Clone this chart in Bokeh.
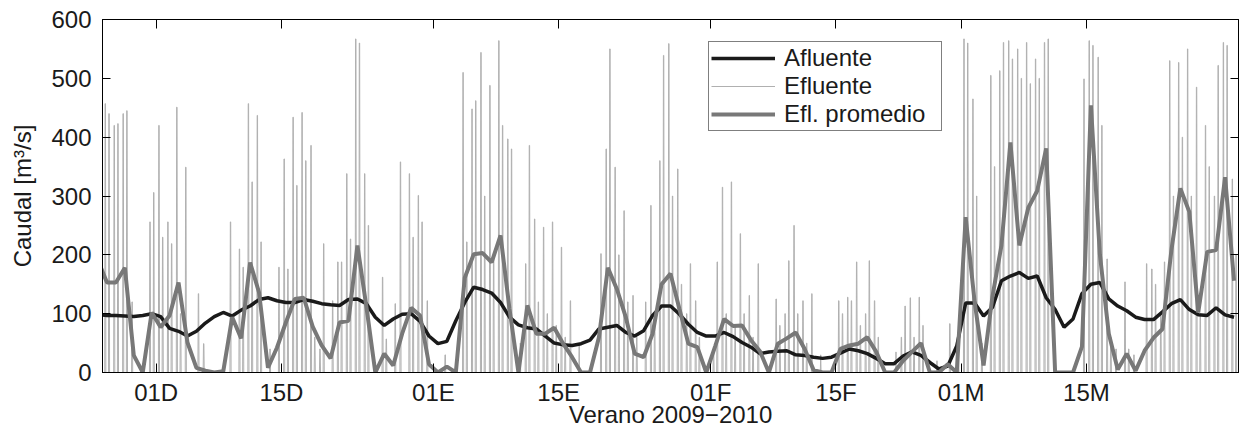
import numpy as np
from bokeh.plotting import figure
from bokeh.models import Range1d, FixedTicker, LinearAxis, Legend, LegendItem
from bokeh.embed import file_html
from bokeh.resources import INLINE

# Daily series, one value per day (plotted at noon), from 2009-11-24 to 2010-03-31
primer_dia = "2009-11-24"
origen = "2009-11-25"          # left edge of the time axis
fin = "2010-04-01"             # right edge of the time axis

afluente = [98, 97, 97, 96, 95, 97, 100, 95, 75, 70, 62, 70, 84, 95, 102, 96, 106,
            113, 124, 127, 122, 119, 119, 124, 121, 117, 115, 114, 124, 125, 117, 94,
            80, 91, 99, 100, 87, 62, 49, 53, 88, 119, 145, 141, 135, 119, 94, 81, 76,
            74, 62, 50, 47, 46, 49, 55, 74, 77, 80, 68, 62, 71, 97, 113, 113, 99, 82,
            68, 62, 62, 68, 61, 51, 43, 32, 35, 36, 37, 30, 29, 26, 24, 26, 33, 40,
            37, 32, 24, 15, 15, 28, 35, 29, 17, 6, 11, 45, 118, 118, 96, 111, 156,
            164, 170, 160, 164, 127, 107, 77, 91, 134, 150, 153, 125, 113, 105, 94,
            90, 90, 103, 117, 124, 107, 98, 97, 110, 98, 94]

efl_promedio = [190, 153, 153, 178, 29, 0, 102, 77, 97, 153, 51, 8, 3, 0, 2, 94, 58,
                187, 136, 8, 42, 85, 125, 127, 78, 46, 24, 85, 88, 216, 112, 0, 32, 12,
                66, 110, 97, 14, 0, 10, 0, 161, 201, 203, 187, 233, 108, 0, 114, 66,
                66, 76, 49, 26, 0, 0, 60, 178, 142, 94, 32, 26, 66, 150, 168, 108, 49,
                43, 0, 45, 91, 79, 80, 55, 36, 0, 49, 58, 68, 40, 4, 0, 0, 40, 46, 49,
                60, 35, 0, 0, 20, 35, 50, 0, 0, 14, 0, 264, 120, 12, 130, 216, 391,
                216, 280, 309, 381, 0, 0, 0, 44, 454, 201, 66, 5, 32, 3, 37, 59, 74,
                208, 313, 273, 102, 205, 208, 332, 156]

# Effluent peaks of the morning and afternoon turbine runs of each day
pico_am = [0, 457, 420, 440, 120, 0, 256, 420, 256, 451, 349, 0, 49, 0, 0, 256, 210,
           457, 437, 0, 0, 363, 434, 442, 386, 40, 0, 188, 338, 567, 338, 0, 162, 0,
           358, 338, 301, 122, 0, 30, 0, 510, 448, 544, 488, 564, 397, 0, 185, 261,
           247, 256, 213, 122, 50, 0, 0, 380, 349, 275, 131, 0, 284, 360, 559, 346,
           100, 122, 0, 40, 315, 324, 236, 131, 185, 0, 125, 100, 250, 122, 134, 30,
           0, 122, 128, 188, 100, 122, 0, 0, 60, 127, 128, 0, 20, 0, 0, 567, 465, 50,
           505, 513, 564, 550, 561, 533, 561, 0, 0, 0, 0, 564, 536, 193, 40, 154, 30,
           0, 176, 100, 530, 527, 550, 485, 420, 300, 561, 329]
pico_pm = [0, 440, 423, 445, 0, 0, 306, 230, 219, 100, 0, 134, 0, 0, 0, 0, 179, 324,
           222, 40, 179, 176, 318, 360, 60, 219, 122, 188, 227, 560, 250, 0, 57, 117,
           0, 230, 256, 0, 0, 0, 0, 222, 462, 300, 200, 420, 380, 50, 386, 120, 100,
           80, 60, 0, 0, 0, 202, 550, 200, 120, 60, 120, 100, 539, 300, 150, 185, 60,
           0, 188, 100, 80, 100, 60, 0, 0, 80, 190, 100, 50, 0, 0, 0, 100, 122, 80,
           190, 60, 0, 35, 113, 60, 80, 0, 0, 83, 40, 560, 300, 0, 350, 561, 533,
           500, 491, 500, 567, 0, 0, 0, 499, 556, 420, 60, 0, 40, 0, 185, 150, 188,
           300, 400, 300, 100, 350, 522, 556, 200]
hora_am, hora_pm = 6, 16

tick_dates = ["2009-12-01", "2009-12-15", "2010-01-01", "2010-01-15",
              "2010-02-01", "2010-02-15", "2010-03-01", "2010-03-15"]
tick_labels = ["01D", "15D", "01E", "15E", "01F", "15F", "01M", "15M"]
y_ticks = [0, 100, 200, 300, 400, 500, 600]

FONT = "Liberation Sans"
C_TXT = "#1a1a1a"
C_AFL = "#1a1a1a"
C_EFL = "#b0b0b0"
C_PROM = "#787878"

t0 = np.datetime64(origen)
dias = np.datetime64(primer_dia) + np.arange(len(afluente))
dia_ini = (dias - t0) / np.timedelta64(1, "D")
x_diario = dia_ini + 0.5
x_fin = float((np.datetime64(fin) - t0) / np.timedelta64(1, "D"))
tick_x = [int((np.datetime64(d) - t0) / np.timedelta64(1, "D")) for d in tick_dates]

# Hourly effluent: each run ramps up in one hour, holds its peak and ramps down;
# the hold time follows from the day's mean discharge (at most one hour).
ex, ey = [], []
for d0, a, p1, p2 in zip(dia_ini, efl_promedio, pico_am, pico_pm):
    total = p1 + p2
    if total <= 0:
        continue
    horas = min(max(24.0 * a / total, 0.0), 1.0)
    for pk, h in ((p1, hora_am), (p2, hora_pm)):
        if pk <= 0:
            continue
        s = d0 + h / 24.0
        ex += [s, s + 1 / 24.0, s + (1 + horas) / 24.0, s + (2 + horas) / 24.0]
        ey += [0, pk, pk, 0]

p = figure(width=1250, height=430, x_range=Range1d(0, x_fin), y_range=Range1d(0, 600),
           output_backend="svg", toolbar_location=None,
           min_border_left=102, min_border_right=12, min_border_top=19, min_border_bottom=58)
p.background_fill_color = "white"
p.border_fill_color = "white"
p.outline_line_color = "black"
p.outline_line_width = 1
p.xgrid.visible = False
p.ygrid.visible = False

r_efl = p.line(ex, ey, line_color=C_EFL, line_width=1.0)
r_afl = p.line(x_diario, afluente, line_color=C_AFL, line_width=3.5)
r_prom = p.line(x_diario, efl_promedio, line_color=C_PROM, line_width=4)

def estilo(ax, ticks, largo, etiquetas=True):
    ax.ticker = FixedTicker(ticks=ticks)
    ax.minor_tick_line_color = None
    ax.major_tick_in = largo
    ax.major_tick_out = 0
    ax.axis_line_color = "black"
    ax.major_tick_line_color = "black"
    ax.major_label_text_font = FONT
    ax.axis_label_text_font = FONT
    ax.axis_label_text_font_style = "normal"
    ax.axis_label_text_font_size = "24px"
    ax.axis_label_text_color = C_TXT
    if etiquetas:
        ax.major_label_text_font_size = "24px"
        ax.major_label_text_color = C_TXT
    else:
        ax.major_label_text_font_size = "1px"
        ax.major_label_text_color = None
        ax.major_label_standoff = 0

xa = p.xaxis[0]
estilo(xa, tick_x, 9)
xa.major_label_overrides = dict(zip(tick_x, tick_labels))
xa.major_label_standoff = 6
xa.axis_label = "Verano 2009\u22122010"
xa.axis_label_standoff = -8

ya = p.yaxis[0]
estilo(ya, y_ticks, 8)
ya.major_label_standoff = 11
ya.axis_label = "Caudal [m\u00b3/s]"
ya.axis_label_standoff = 12

top = LinearAxis()
estilo(top, tick_x, 9, etiquetas=False)
p.add_layout(top, "above")
right = LinearAxis()
estilo(right, y_ticks, 8, etiquetas=False)
p.add_layout(right, "right")

legend = Legend(items=[LegendItem(label="Afluente", renderers=[r_afl]),
                       LegendItem(label="Efluente", renderers=[r_efl]),
                       LegendItem(label="Efl. promedio", renderers=[r_prom])],
                location=(606, 241))
legend.label_text_font = FONT
legend.label_text_font_size = "24px"
legend.label_text_color = C_TXT
legend.glyph_width = 64
legend.glyph_height = 24
legend.label_height = 24
legend.label_width = 155
legend.label_standoff = 9
legend.spacing = 0
legend.padding = 2
legend.margin = 0
legend.border_line_color = "black"
legend.border_line_width = 1
legend.background_fill_alpha = 1
p.add_layout(legend, "center")

open("out.html", "w").write(file_html(p, INLINE))
